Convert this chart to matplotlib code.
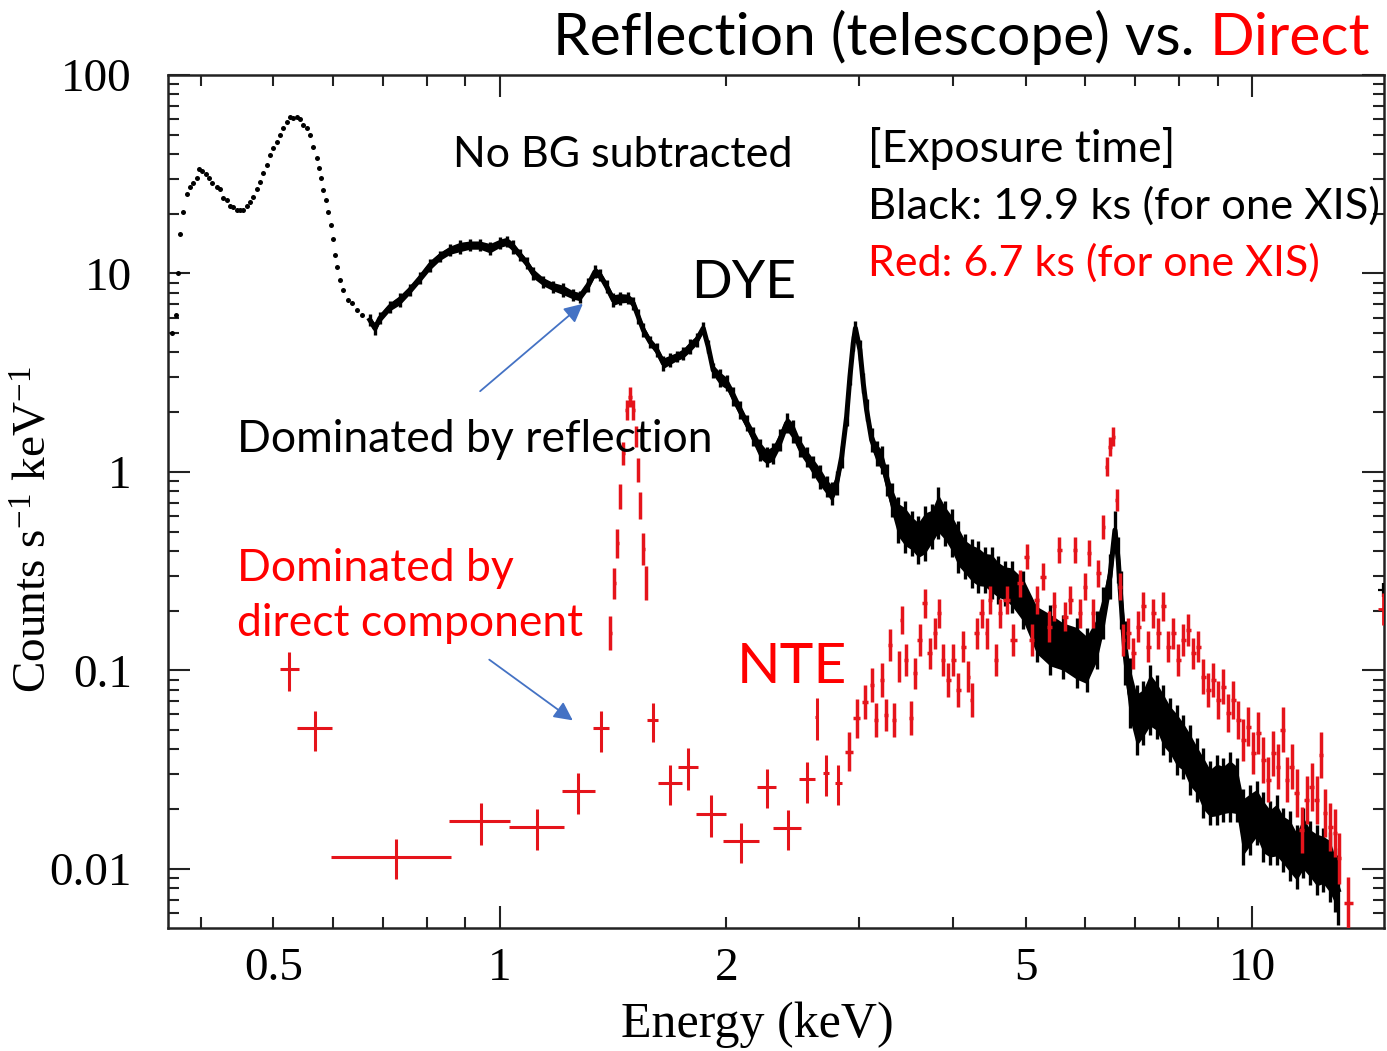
import numpy as np
import matplotlib
matplotlib.use("Agg")
import matplotlib.pyplot as plt
from matplotlib.ticker import FixedLocator, FuncFormatter, NullFormatter

# ---------------------------------------------------------------------------
# DYE (reflection through the telescope), counts s^-1 keV^-1 vs energy (keV)
# ---------------------------------------------------------------------------
dye_energy = [
    0.367, 0.371, 0.373,
    0.3754, 0.3792, 0.3831, 0.3870, 0.3910, 0.3951, 0.3979, 0.4019, 0.4061, 0.4102,
    0.4144, 0.4201, 0.4244, 0.4286, 0.4331, 0.4375, 0.4419, 0.4466, 0.4511, 0.4557,
    0.4605, 0.4652, 0.4699, 0.4749, 0.4797, 0.4845, 0.4896, 0.4945, 0.4996, 0.5049,
    0.5100, 0.5151, 0.5206, 0.5258, 0.5311, 0.5368, 0.5420, 0.5476, 0.5534, 0.5590,
    0.5647, 0.5706, 0.5747, 0.5781, 0.5821, 0.5864, 0.5911, 0.5955, 0.5991, 0.6034,
    0.6076, 0.6126, 0.6189, 0.6273, 0.6350, 0.6447, 0.6547,
    0.6716, 0.6820, 0.6925, 0.7140, 0.7362, 0.7590, 0.7825, 0.8072, 0.8322, 0.8581,
    0.8847, 0.9123, 0.9406, 0.9699, 1.0000, 1.0207, 1.0416, 1.0632, 1.0852, 1.1074,
    1.1418, 1.1772, 1.2137, 1.2515, 1.2777, 1.3103,
    1.3377, 1.3584, 1.3866, 1.4149, 1.4442, 1.4812, 1.5043, 1.5274, 1.5512, 1.5832,
    1.6160, 1.6491, 1.6832, 1.7180, 1.7532, 1.7895, 1.8266, 1.8636, 1.8923, 1.9214,
    1.9616, 2.0022, 2.0428, 2.0851, 2.1285, 2.1716, 2.2166, 2.2625, 2.3087, 2.3566,
    2.4054, 2.4548, 2.5055, 2.5574, 2.6098, 2.6638, 2.7189, 2.7612, 2.8036, 2.8472,
    2.8907, 2.9202, 2.9499, 2.9697,
    3.0110, 3.0417, 3.0734, 3.1212, 3.1690, 3.2181, 3.2677, 3.3185, 3.3864, 3.4565,
    3.5281, 3.5995, 3.6749, 3.7510, 3.8279, 3.9071, 3.9880, 4.0687, 4.1537, 4.2398,
    4.3255, 4.4151, 4.5066, 4.5989, 4.6941, 4.7913, 4.9652, 5.1717, 5.3868, 5.6109,
    5.8458, 6.0276, 6.2151, 6.3424, 6.4736, 6.5729, 6.6399, 6.6951, 6.7776, 6.8824,
    7.0250, 7.1686, 7.3170, 7.4685, 7.6200, 7.7804, 7.9415, 8.1024, 8.2721, 8.4434,
    8.6145, 8.7931, 8.9751, 9.1589, 9.3485, 9.5421, 9.7374, 9.9381, 10.143, 10.351,
    10.566, 10.784, 11.006, 11.234, 11.466, 11.700, 11.943, 12.190, 12.439, 12.697,
    12.893, 13.024,
]
dye_counts = [
    5.0, 6.2, 10.0,
    15.8, 20.5, 25.1, 27.4, 28.5, 30.2, 33.6, 33.0, 31.7, 30.2,
    28.5, 27.2, 26.6, 23.9, 23.5, 21.9, 21.6, 20.9, 20.9, 20.9,
    21.9, 23.0, 24.2, 26.6, 29.0, 32.0, 35.2, 39.5, 42.7, 46.1,
    49.9, 53.9, 58.2, 61.2, 60.5, 61.7, 59.8, 56.0, 53.9, 49.9,
    43.5, 38.1, 33.9, 30.2, 26.3, 23.5, 20.5, 17.5, 15.0, 12.4,
    10.8, 9.27, 8.26, 7.35, 7.08, 6.55, 6.18,
    5.83, 5.30, 5.95, 6.80, 7.35, 8.26, 9.46, 11.0, 12.2, 13.1,
    13.6, 13.9, 13.9, 13.4, 14.2, 14.5, 13.6, 12.4, 11.3, 10.0,
    9.09, 8.58, 8.26, 7.79, 7.64, 8.75,
    10.2, 9.83, 8.58, 7.35, 7.50, 7.50, 7.08, 6.06, 5.19, 4.53,
    4.12, 3.53, 3.67, 3.81, 3.96, 4.28, 4.62, 5.30, 4.28, 3.26,
    2.96, 2.80, 2.40, 2.05, 1.76, 1.51, 1.29, 1.19, 1.24, 1.45,
    1.76, 1.60, 1.34, 1.19, 1.06, 0.947, 0.843, 0.781, 0.877, 1.19,
    1.90, 3.02, 4.45, 5.30,
    4.12, 2.80, 2.05, 1.45, 1.24, 1.15, 0.911, 0.723, 0.573, 0.530,
    0.491, 0.454, 0.491, 0.530, 0.619, 0.552, 0.491, 0.420, 0.374, 0.347,
    0.333, 0.321, 0.309, 0.286, 0.275, 0.264, 0.226, 0.160, 0.1425, 0.1318,
    0.122, 0.113, 0.1425, 0.194, 0.297, 0.510, 0.360, 0.226, 0.122, 0.0767,
    0.0563, 0.0609, 0.0710, 0.0657, 0.0563, 0.0502, 0.0447, 0.0413, 0.0354, 0.0315,
    0.0270, 0.0241, 0.0250, 0.0250, 0.0260, 0.0250, 0.0163, 0.0177, 0.0191, 0.0163,
    0.0151, 0.0157, 0.0140, 0.0130, 0.01153, 0.01347, 0.0120, 0.0111, 0.0111, 0.01027,
    0.0088, 0.00784,
]
# fractional 1-sigma error of each DYE bin
dye_relerr = (
    [0.03] * 3 + [0.02] * 57 +
    [0.07, 0.08, 0.07, 0.07, 0.08, 0.07, 0.07, 0.08, 0.07, 0.07,
     0.08, 0.07, 0.07, 0.08, 0.07, 0.07, 0.08, 0.07, 0.07, 0.08,
     0.07, 0.07, 0.08, 0.07, 0.07, 0.08] +
    [0.08, 0.07, 0.08, 0.09, 0.08, 0.07, 0.08, 0.09, 0.08, 0.07,
     0.08, 0.09, 0.08, 0.07, 0.08, 0.09, 0.08, 0.07, 0.08, 0.09,
     0.11, 0.10, 0.12, 0.11, 0.10, 0.12, 0.14, 0.12, 0.13, 0.14,
     0.12, 0.14, 0.13, 0.12, 0.14, 0.15, 0.13, 0.14, 0.15, 0.13,
     0.12, 0.10, 0.09, 0.09] +
    [0.12, 0.12, 0.14, 0.15, 0.16, 0.18, 0.20, 0.22,
     0.30, 0.35, 0.30, 0.32, 0.38, 0.30, 0.35, 0.30, 0.32, 0.35,
     0.30, 0.33, 0.35, 0.30, 0.35, 0.32, 0.30, 0.35,
     0.40, 0.45, 0.50, 0.45, 0.50, 0.45, 0.40, 0.35, 0.30, 0.25,
     0.30, 0.40, 0.45, 0.50,
     0.50, 0.45, 0.50, 0.45, 0.50, 0.45, 0.50, 0.45, 0.50, 0.45,
     0.50, 0.45, 0.50, 0.45, 0.50, 0.45, 0.55, 0.50, 0.45, 0.50,
     0.45, 0.50, 0.45, 0.50, 0.45, 0.50, 0.45, 0.50, 0.45, 0.50,
     0.45, 0.50]
)

# ---------------------------------------------------------------------------
# NTE (direct component): wide low-energy bins with explicit bounds
# ---------------------------------------------------------------------------
nte_wide_energy = [0.5246, 0.5675, 0.727, 0.9435, 1.121, 1.272, 1.362, 1.596, 1.683,
                   1.780, 1.908, 2.092, 2.263, 2.413, 2.557, 2.637, 2.714, 2.818]
nte_wide_counts = [0.1018, 0.0512, 0.01149, 0.0174, 0.0163, 0.0248, 0.0512, 0.0563, 0.0272,
                   0.0328, 0.0189, 0.0139, 0.0260, 0.0160, 0.0283, 0.0585, 0.0303, 0.0272]
nte_wide_e_lo = [0.510, 0.5377, 0.5955, 0.856, 1.029, 1.210, 1.328, 1.570, 1.624,
                 1.726, 1.822, 1.981, 2.194, 2.309, 2.500, 2.622, 2.690, 2.790]
nte_wide_e_hi = [0.540, 0.599, 0.860, 1.031, 1.218, 1.338, 1.397, 1.625, 1.744,
                 1.835, 1.996, 2.210, 2.328, 2.512, 2.624, 2.652, 2.740, 2.850]
nte_wide_c_lo = [0.0788, 0.0394, 0.00887, 0.0132, 0.01247, 0.0189, 0.039, 0.0438, 0.0210,
                 0.0250, 0.01455, 0.01076, 0.0202, 0.01247, 0.0216, 0.0447, 0.0233, 0.0210]
nte_wide_c_hi = [0.124, 0.0627, 0.01416, 0.0214, 0.0200, 0.0306, 0.0627, 0.0684, 0.0334,
                 0.0406, 0.0236, 0.0171, 0.0318, 0.0197, 0.0347, 0.0724, 0.0375, 0.0334]

# NTE fine bins (Al-K line and the hard continuum with the Fe line)
nte_fine_energy = [
    1.403, 1.419, 1.432, 1.444, 1.459, 1.474, 1.489, 1.504, 1.516, 1.527,
    1.536, 1.551, 1.564,
    2.913, 2.980, 3.058, 3.122, 3.162, 3.219, 3.262, 3.301, 3.344, 3.396,
    3.421, 3.467, 3.517, 3.563, 3.618, 3.674, 3.731, 3.789, 3.839, 3.886,
    3.948, 4.007, 4.068, 4.131, 4.195, 4.238, 4.303, 4.370, 4.437, 4.483,
    4.566, 4.623, 4.718, 4.815, 4.915, 5.017, 5.093, 5.172, 5.278, 5.377,
    5.455, 5.545, 5.641, 5.729, 5.817, 5.906, 5.998, 6.077, 6.152, 6.247,
    6.343, 6.409, 6.474, 6.540, 6.607, 6.675, 6.743, 6.847, 6.953, 7.061,
    7.170, 7.281, 7.393, 7.507, 7.623, 7.741, 7.860, 7.981, 8.104, 8.229,
    8.356, 8.485, 8.616, 8.749, 8.883, 9.020, 9.159, 9.301, 9.443, 9.590,
    9.737, 9.888, 10.04, 10.19, 10.35, 10.51, 10.67, 10.84, 10.98, 11.12,
    11.29, 11.47, 11.65, 11.82, 12.01, 12.19, 12.36, 12.51, 12.70, 12.89,
    13.06, 13.43,
]
nte_fine_counts = [
    0.154, 0.275, 0.437, 0.751, 1.24, 2.05, 2.39, 2.05, 1.51, 1.02,
    0.68, 0.41, 0.276,
    0.039, 0.0574, 0.0696, 0.0845, 0.0563, 0.0896, 0.0597, 0.1344, 0.0563, 0.1045,
    0.1797, 0.113, 0.0574, 0.0968, 0.1425, 0.218, 0.122, 0.154, 0.194, 0.113,
    0.0896, 0.113, 0.0798, 0.1318, 0.0931, 0.071, 0.154, 0.194, 0.154, 0.2265,
    0.113, 0.194, 0.2265, 0.1425, 0.275, 0.3745, 0.1425, 0.2265, 0.297, 0.166,
    0.21, 0.405, 0.1866, 0.2265, 0.405, 0.194, 0.264, 0.3895, 0.194, 0.309,
    0.530, 1.063, 1.341, 1.506, 0.722, 0.264, 0.1425, 0.154, 0.122, 0.166,
    0.21, 0.1318, 0.194, 0.154, 0.21, 0.1318, 0.154, 0.113, 0.1425, 0.160,
    0.122, 0.1318, 0.0931, 0.0798, 0.0896, 0.071, 0.0829, 0.0609, 0.071, 0.0563,
    0.0447, 0.0521, 0.0383, 0.0483, 0.0354, 0.0281, 0.0383, 0.0328, 0.0502, 0.0281,
    0.0328, 0.0241, 0.0157, 0.0223, 0.026, 0.0223, 0.0375, 0.0191, 0.0163, 0.0151,
    0.0113, 0.00671,
]
nte_fine_relerr = [
    0.22, 0.20, 0.18, 0.16, 0.14, 0.12, 0.12, 0.12, 0.13, 0.15,
    0.17, 0.20, 0.22,
    0.25, 0.25, 0.22, 0.22, 0.22, 0.22, 0.20, 0.20, 0.22, 0.20,
    0.18, 0.20, 0.22, 0.20, 0.20, 0.18, 0.20, 0.20, 0.18, 0.20,
    0.22, 0.20, 0.22, 0.20, 0.20, 0.22, 0.20, 0.18, 0.20, 0.18,
    0.20, 0.18, 0.18, 0.20, 0.17, 0.16, 0.20, 0.18, 0.17, 0.20,
    0.18, 0.16, 0.18, 0.18, 0.16, 0.18, 0.17, 0.16, 0.18, 0.17,
    0.15, 0.12, 0.12, 0.12, 0.14, 0.17, 0.20, 0.20, 0.20, 0.20,
    0.18, 0.20, 0.18, 0.20, 0.18, 0.20, 0.20, 0.20, 0.20, 0.20,
    0.20, 0.20, 0.22, 0.22, 0.22, 0.25, 0.22, 0.25, 0.25, 0.25,
    0.28, 0.25, 0.28, 0.28, 0.30, 0.30, 0.30, 0.30, 0.30, 0.30,
    0.30, 0.32, 0.30, 0.32, 0.32, 0.32, 0.30, 0.32, 0.32, 0.32,
    0.35, 0.35,
]

# last broad bins at the high-energy end
tail_energy = [14.95]
dye_tail_counts = [0.255]
nte_tail_counts = [0.205]

# axis ticks
x_major = [1, 10]
x_minor = [0.4, 0.5, 0.6, 0.7, 0.8, 0.9, 2, 3, 4, 5, 6, 7, 8, 9]
x_labelled = [0.5, 1, 2, 5, 10]
y_major = [0.01, 0.1, 1, 10, 100]
y_minor = [m * d for d in (0.001, 0.01, 0.1, 1, 10) for m in range(2, 10)]

RED_DATA = '#e5141b'
RED_TEXT = '#ff0000'
ARROW = '#4472c4'

plt.rcParams['mathtext.fontset'] = 'custom'
plt.rcParams['mathtext.rm'] = 'Liberation Serif'
plt.rcParams['mathtext.it'] = 'Liberation Serif:italic'

W, H = 1387, 1051
fig = plt.figure(figsize=(W / 100, H / 100), dpi=100)
ax = fig.add_axes([168 / W, 1 - 928 / H, (1384 - 168) / W, (928 - 75) / H])
ax.set_xscale('log')
ax.set_yscale('log')
ax.set_xlim(0.362, 14.98)
ax.set_ylim(0.00504, 100)

# --- DYE spectrum ---------------------------------------------------------
dE = np.array(dye_energy)
dC = np.array(dye_counts)
dF = np.array(dye_relerr)
dots = dE < 0.66
ax.plot(dE[dots], dC[dots], 'o', ms=3.6, mew=0, color='black', zorder=3)
bE, bC, bF = dE[~dots], dC[~dots], dF[~dots]
ax.fill_between(bE, bC / (1 + 0.7 * bF), bC * (1 + 0.7 * bF), color='black', lw=0, zorder=3)
ax.vlines(bE, bC / (1 + bF), bC * (1 + bF), color='black', lw=2.4, zorder=3)
ax.plot(bE, bC, color='black', lw=3.6, zorder=3)
ax.errorbar(tail_energy, dye_tail_counts, xerr=[[0.25], [0.6]],
            yerr=[[0.02], [0.02]], fmt='none', ecolor='black', elinewidth=1.6, zorder=3)

# --- NTE spectrum ---------------------------------------------------------
wE = np.array(nte_wide_energy)
wC = np.array(nte_wide_counts)
ax.errorbar(wE, wC,
            xerr=[wE - np.array(nte_wide_e_lo), np.array(nte_wide_e_hi) - wE],
            yerr=[wC - np.array(nte_wide_c_lo), np.array(nte_wide_c_hi) - wC],
            fmt='none', ecolor=RED_DATA, elinewidth=2.2, capsize=0, zorder=4)

fE = np.array(nte_fine_energy)
fC = np.array(nte_fine_counts)
fF = np.array(nte_fine_relerr)
gaps = np.diff(fE)
half = 0.5 * np.minimum(np.r_[gaps[0], gaps], np.r_[gaps, gaps[-1]])
ax.errorbar(fE, fC, xerr=half, yerr=[fC - fC / (1 + fF), fC * fF],
            fmt='none', ecolor=RED_DATA, elinewidth=2.5, capsize=0, zorder=4)
ax.errorbar(tail_energy, nte_tail_counts, xerr=[[0.25], [0.6]],
            yerr=[[0.035], [0.04]], fmt='none', ecolor=RED_DATA, elinewidth=2.0, zorder=4)

# --- axes styling ---------------------------------------------------------
ax.xaxis.set_major_locator(FixedLocator(x_major))
ax.xaxis.set_minor_locator(FixedLocator(x_minor))
fmt_x = FuncFormatter(lambda v, p: ('%g' % v) if any(abs(v - t) < 1e-9 for t in x_labelled) else '')
ax.xaxis.set_major_formatter(fmt_x)
ax.xaxis.set_minor_formatter(fmt_x)
ax.yaxis.set_major_locator(FixedLocator(y_major))
ax.yaxis.set_minor_locator(FixedLocator(y_minor))
ax.yaxis.set_major_formatter(FuncFormatter(lambda v, p: '%g' % v))
ax.yaxis.set_minor_formatter(NullFormatter())

ax.tick_params(which='both', direction='in', top=True, right=True, color='#222222', width=1.5)
ax.tick_params(which='major', length=16)
ax.tick_params(which='minor', length=8)
ax.tick_params(axis='x', which='both', pad=14)
ax.tick_params(axis='y', which='both', pad=26)
for lab in ax.get_xticklabels(which='both') + ax.get_yticklabels():
    lab.set_fontfamily('Liberation Serif')
    lab.set_fontsize(34)
for sp in ax.spines.values():
    sp.set_linewidth(1.8)
    sp.set_color('#222222')

fig.text(35 / W, 1 - 530 / H, r'Counts s$^{\mathregular{-1}}$ keV$^{\mathregular{-1}}$',
         rotation=90, ha='center', va='center', family='Liberation Serif', fontsize=34)
fig.text(757 / W, 1 - 1025 / H, 'Energy (keV)', ha='center', va='center',
         family='Liberation Serif', fontsize=36)

# --- annotations ----------------------------------------------------------
ann_font = ['Lato', 'DejaVu Sans']


def put(x, y, s, size, color='black'):
    return fig.text(x / W, 1 - y / H, s, fontsize=size, color=color, family=ann_font,
                    ha='left', va='baseline')


title_left = put(553, 55, 'Reflection (telescope) vs. ', 42.3)
fig.canvas.draw()
bb = title_left.get_window_extent()
fig.text(bb.x1 / W, 1 - 55 / H, 'Direct', fontsize=42.3, color=RED_TEXT, family=ann_font,
         ha='left', va='baseline')

put(453, 167, 'No BG subtracted', 31)
put(868, 162, '[Exposure time]', 32)
put(868, 219, 'Black: 19.9 ks (for one XIS)', 31.3)
put(868, 276, 'Red: 6.7 ks (for one XIS)', 31, RED_TEXT)
put(691, 298, 'DYE', 38.5)
put(237, 452, 'Dominated by reflection', 32)
put(237, 581, 'Dominated by', 32, RED_TEXT)
put(237, 636, 'direct component', 32, RED_TEXT)
put(737, 683, 'NTE', 41, RED_TEXT)

for (x0, y0), (x1, y1) in [((478, 393), (585, 302)), ((487, 658), (575, 722))]:
    fig.add_artist(matplotlib.patches.FancyArrowPatch(
        (x0 / W, 1 - y0 / H), (x1 / W, 1 - y1 / H), transform=fig.transFigure,
        arrowstyle='-|>', mutation_scale=28, color=ARROW, lw=1.3))

fig.savefig('out.png', dpi=100)
